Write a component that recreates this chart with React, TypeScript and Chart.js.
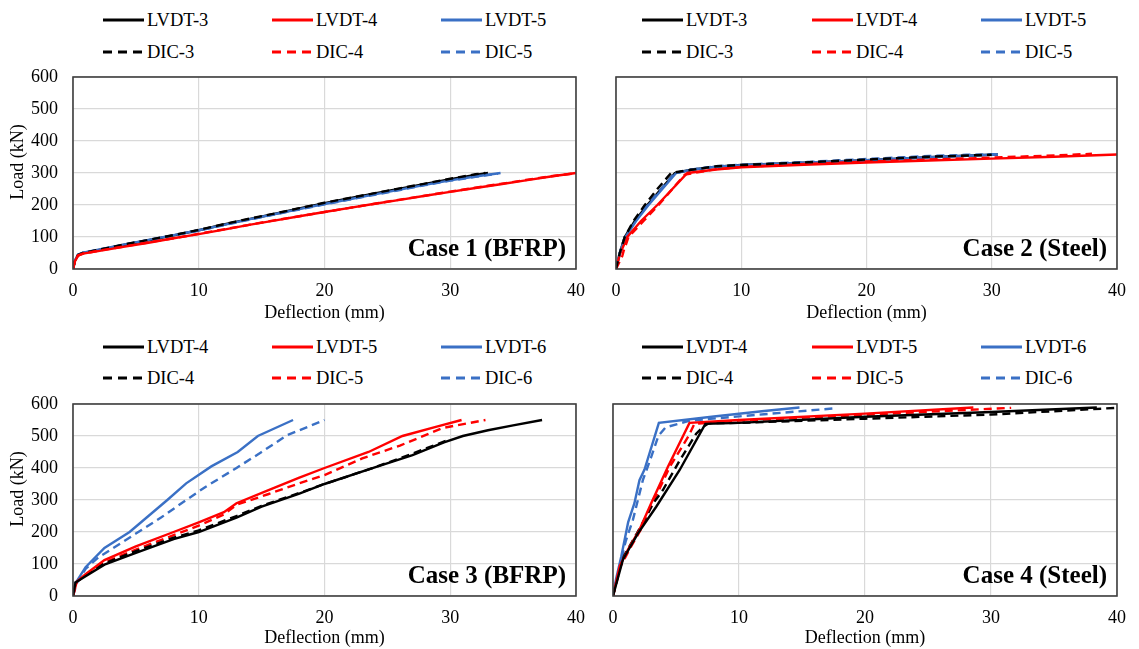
import React, { useEffect, useRef } from "react";
import { Chart, registerables } from "chart.js";

Chart.register(...registerables);

const FONT = "'Liberation Serif', 'Times New Roman', serif";
const BLACK = "#000000";
const RED = "#FF0000";
const BLUE = "#3A70C5";

type Pt = [number, number];

// ---------- Case 1 (BFRP) ----------
const C1_LVDT3: Pt[] = [[0,0],[0.15,25],[0.4,44],[0.8,50],[2,59],[4,75],[6,90],[8,105],[10,121],[12,139],[14,156],[16,172],[18,189],[20,206],[22,221],[24,236],[26,251],[28,266],[30,281],[32,294],[33,300]];
const C1_LVDT4: Pt[] = [[0,0],[0.15,24],[0.4,42],[0.8,48],[2,56],[4,69],[6,82],[8,96],[10,109],[12,123],[14,138],[16,151],[18,165],[20,178],[22,191],[24,204],[26,216],[28,229],[30,241],[32,253],[34,265],[36,277],[38,289],[40,300]];
const C1_LVDT5: Pt[] = [[0,0],[0.15,26],[0.4,45],[0.8,51],[2,60],[4,76],[6,91],[8,106],[10,121],[12,138],[14,155],[16,171],[18,187],[20,203],[22,218],[24,233],[26,248],[28,263],[30,277],[32,289],[34,300]];
const C1_DIC3: Pt[] = [[0,0],[0.15,25],[0.4,44],[0.8,50],[2,60],[4,76],[6,91],[8,106],[10,122],[12,140],[14,157],[16,173],[18,190],[20,207],[22,222],[24,237],[26,252],[28,267],[30,282],[32,296],[32.8,300]];
const C1_DIC4: Pt[] = [[0,0],[0.15,24],[0.4,42],[0.8,48],[2,57],[4,70],[6,83],[8,96],[10,110],[12,124],[14,138],[16,152],[18,165],[20,178],[22,191],[24,204],[26,217],[28,229],[30,242],[32,254],[34,266],[36,278],[38,290],[40,299]];
const C1_DIC5: Pt[] = [[0,0],[0.15,26],[0.4,45],[0.8,51],[2,59],[4,75],[6,90],[8,105],[10,120],[12,137],[14,154],[16,170],[18,186],[20,202],[22,217],[24,232],[26,247],[28,262],[30,276],[32,288],[33.8,298]];

// ---------- Case 2 (Steel) ----------
const C2_LVDT3: Pt[] = [[0,0],[0.3,50],[0.7,100],[1.5,150],[2.5,200],[3.6,250],[4.7,300],[6,310],[8,320],[10,325],[15,332],[20,340],[25,349],[30.5,358]];
const C2_LVDT4: Pt[] = [[0,0],[0.3,45],[0.9,100],[2,150],[3.3,200],[4.5,250],[5.7,300],[8,311],[10,318],[15,326],[20,333],[25,339],[30,345],[35,351],[40,358]];
const C2_LVDT5: Pt[] = [[0,0],[0.3,50],[0.75,100],[1.6,150],[2.6,200],[3.7,250],[4.8,300],[6,310],[8,320],[10,324],[15,332],[20,340],[25,349],[30.5,358]];
const C2_DIC3: Pt[] = [[0,0],[0.3,50],[0.7,100],[1.4,150],[2.3,200],[3.3,250],[4.4,300],[6,310],[8,321],[10,325],[15,333],[20,342],[25,351],[30,357]];
const C2_DIC4: Pt[] = [[0,0],[0.5,40],[0.6,55],[1,100],[2.2,150],[3.4,200],[4.5,250],[5.5,295],[8,312],[10,319],[15,328],[20,336],[25,342],[30,348],[35,355],[38,360]];
const C2_DIC5: Pt[] = [[0,0],[0.3,50],[0.7,100],[1.5,150],[2.5,200],[3.6,250],[4.7,300],[6,311],[8,321],[10,326],[15,334],[20,344],[25,353],[28,357],[30.5,359]];

// ---------- Case 3 (BFRP) ----------
const C3_LVDT4: Pt[] = [[0,0],[0.2,42],[1,62],[2.5,98],[5,135],[8,178],[10,200],[13,245],[15,279],[18,320],[20,350],[24,402],[27,440],[29.5,480],[31,500],[33,518],[35,533],[37.3,550]];
const C3_LVDT5: Pt[] = [[0,0],[0.3,45],[1,68],[2.5,112],[5,155],[8,200],[10,230],[12,262],[13,290],[15.5,330],[18,370],[20,400],[23.5,450],[26.2,500],[29,530],[30.9,550]];
const C3_LVDT6: Pt[] = [[0,0],[0.2,40],[1,90],[2.5,150],[4.5,200],[6,250],[7.5,300],[9,352],[11,405],[13.1,450],[14.7,500],[17.5,550]];
const C3_DIC4: Pt[] = [[0,0],[0.2,42],[1,65],[2.5,102],[5,140],[8,182],[10,205],[13,250],[15,282],[18,322],[20,350],[24,402],[27,445],[30,490]];
const C3_DIC5: Pt[] = [[0,0],[0.3,45],[1,65],[2.5,105],[5,145],[8,190],[10,220],[12,255],[13,285],[15.5,318],[18,352],[20,378],[23,430],[26,470],[29.4,525],[32.8,550]];
const C3_DIC6: Pt[] = [[0,0],[0.3,40],[1,85],[2,120],[3,145],[5,195],[7,245],[9,300],[10.5,340],[13,400],[15,450],[17,502],[20,550]];

// ---------- Case 4 (Steel) ----------
const C4_LVDT4: Pt[] = [[0,0],[0.79,114],[1.98,196],[3.43,279],[5.28,393],[7.33,538],[10,541],[20,560],[30,575],[38.4,589]];
const C4_LVDT5: Pt[] = [[0,0],[0.53,93],[1.19,145],[2.1,207],[3.03,290],[4.35,403],[6.07,541],[10,550],[20,570],[28.6,589]];
const C4_LVDT6: Pt[] = [[0,0],[0.25,55],[0.66,124],[1.2,230],[1.7,290],[2.1,362],[2.5,395],[3.64,541],[8,561],[12,578],[14.8,589]];
const C4_DIC4: Pt[] = [[0,0],[0.7,114],[1.9,196],[3.2,290],[3.96,331],[5.3,424],[6.6,507],[7.1,527],[7.6,540],[10,541],[20,554],[30,567],[40,588]];
const C4_DIC5: Pt[] = [[0,0],[0.6,93],[1.3,145],[2.2,207],[3.15,290],[4.5,403],[6.0,500],[6.46,538],[10,548],[20,566],[31.6,588]];
const C4_DIC6: Pt[] = [[0,0],[0.53,93],[1.0,170],[1.58,238],[2.37,362],[3.03,434],[3.6,500],[4.17,527],[6.1,548],[12,568],[17.8,587]];

const X_TICKS = [0, 10, 20, 30, 40];
const Y_TICKS = [0, 100, 200, 300, 400, 500, 600];

type Series = { label: string; pts: Pt[]; color: string; dash: boolean };

const boxPlugin = {
  id: "boxCase",
  afterDatasetsDraw(chart: any, _args: any, opts: any) {
    const { ctx, chartArea: a } = chart;
    ctx.save();
    ctx.strokeStyle = "#3F3F3F";
    ctx.lineWidth = 1.6;
    ctx.strokeRect(a.left, a.top, a.right - a.left, a.bottom - a.top);
    if (opts && opts.text) {
      ctx.font = `bold 25px ${FONT}`;
      ctx.fillStyle = "#000";
      ctx.textAlign = "right";
      ctx.textBaseline = "middle";
      ctx.fillText(opts.text, a.right - 10, a.bottom - 19);
    }
    if (opts && opts.yTitle) {
      ctx.font = `18px ${FONT}`;
      ctx.fillStyle = "#000";
      ctx.textAlign = "center";
      ctx.textBaseline = "middle";
      ctx.translate(18.5, (a.top + a.bottom) / 2 - 11);
      ctx.rotate(-Math.PI / 2);
      ctx.fillText(opts.yTitle, 0, 0);
    }
    ctx.restore();
  },
};

function Panel(props: {
  left: number; top: number; width: number; height: number;
  yw: number; xh: number; padTop: number; padRight: number; titlePadBottom: number;
  showY: boolean; caseText: string; series: Series[];
}) {
  const ref = useRef<HTMLCanvasElement | null>(null);
  useEffect(() => {
    if (!ref.current) return;
    const chart = new Chart(ref.current, {
      type: "line",
      data: {
        datasets: props.series.map((s) => ({
          label: s.label,
          data: s.pts.map(([x, y]) => ({ x, y })),
          borderColor: s.color,
          backgroundColor: s.color,
          borderWidth: 2.4,
          borderDash: s.dash ? [8, 5] : [],
          pointRadius: 0,
          tension: 0,
          fill: false,
        })),
      },
      options: {
        animation: false,
        responsive: false,
        maintainAspectRatio: false,
        layout: { padding: { left: 0, top: props.padTop, right: props.padRight, bottom: 0 } },
        plugins: {
          legend: { display: false },
          tooltip: { enabled: false },
          boxCase: { text: props.caseText, yTitle: props.showY ? "Load (kN)" : "" },
        } as any,
        scales: {
          x: {
            type: "linear",
            min: 0,
            max: 40,
            afterBuildTicks: (scale: any) => { scale.ticks = X_TICKS.map((v) => ({ value: v })); },
            afterFit: (scale: any) => {
              scale.height = props.xh;
              scale.paddingLeft = 0; scale.paddingRight = 0; scale.paddingTop = 0; scale.paddingBottom = 0;
            },
            grid: { color: "#D9D9D9", lineWidth: 1.2, drawTicks: false },
            border: { display: false },
            ticks: { color: "#000", font: { family: FONT, size: 18 }, padding: 11, maxRotation: 0 },
            title: {
              display: true,
              text: "Deflection (mm)",
              color: "#000",
              font: { family: FONT, size: 18 },
              padding: { top: 0, bottom: props.titlePadBottom },
            },
          },
          y: {
            type: "linear",
            min: 0,
            max: 600,
            afterBuildTicks: (scale: any) => { scale.ticks = Y_TICKS.map((v) => ({ value: v })); },
            afterFit: (scale: any) => {
              scale.width = props.yw;
              scale.paddingLeft = 0; scale.paddingRight = 0; scale.paddingTop = 0; scale.paddingBottom = 0;
            },
            grid: { color: "#D9D9D9", lineWidth: 1.2, drawTicks: false },
            border: { display: false },
            ticks: { display: props.showY, color: "#000", font: { family: FONT, size: 18 }, padding: 15 },
            title: { display: false },
          },
        },
      } as any,
      plugins: [boxPlugin as any],
    });
    return () => chart.destroy();
  }, []);
  return (
    <canvas
      ref={ref}
      width={props.width}
      height={props.height}
      style={{ position: "absolute", left: props.left, top: props.top, width: props.width, height: props.height }}
    />
  );
}

function Legend(props: { xs: number[]; ys: number[]; items: { label: string; color: string; dash: boolean }[] }) {
  return (
    <>
      {props.items.map((it, i) => {
        const col = i % 3;
        const row = Math.floor(i / 3);
        const x = props.xs[col];
        const y = props.ys[row];
        return (
          <div key={it.label} style={{ position: "absolute", left: x, top: y - 12, height: 24, display: "flex", alignItems: "center" }}>
            <svg width={41} height={8} style={{ display: "block" }}>
              <line x1={0} y1={4} x2={41} y2={4} stroke={it.color} strokeWidth={3} strokeDasharray={it.dash ? "9 6" : undefined} />
            </svg>
            <span style={{ fontFamily: FONT, fontSize: 18.5, color: "#000", marginLeft: 3, lineHeight: "24px", whiteSpace: "nowrap" }}>{it.label}</span>
          </div>
        );
      })}
    </>
  );
}

const S = (label: string, pts: Pt[], color: string, dash: boolean): Series => ({ label, pts, color, dash });

export default function App() {
  const case1 = [
    S("DIC-4", C1_DIC4, RED, true), S("LVDT-4", C1_LVDT4, RED, false),
    S("DIC-3", C1_DIC3, BLACK, true), S("DIC-5", C1_DIC5, BLUE, true),
    S("LVDT-5", C1_LVDT5, BLUE, false), S("LVDT-3", C1_LVDT3, BLACK, false),
  ];
  const case2 = [
    S("DIC-3", C2_DIC3, BLACK, true), S("DIC-4", C2_DIC4, RED, true), S("DIC-5", C2_DIC5, BLUE, true),
    S("LVDT-4", C2_LVDT4, RED, false), S("LVDT-5", C2_LVDT5, BLUE, false), S("LVDT-3", C2_LVDT3, BLACK, false),
  ];
  const case3 = [
    S("LVDT-4", C3_LVDT4, BLACK, false), S("LVDT-5", C3_LVDT5, RED, false), S("LVDT-6", C3_LVDT6, BLUE, false),
    S("DIC-4", C3_DIC4, BLACK, true), S("DIC-5", C3_DIC5, RED, true), S("DIC-6", C3_DIC6, BLUE, true),
  ];
  const case4 = [
    S("LVDT-4", C4_LVDT4, BLACK, false), S("LVDT-5", C4_LVDT5, RED, false), S("LVDT-6", C4_LVDT6, BLUE, false),
    S("DIC-4", C4_DIC4, BLACK, true), S("DIC-5", C4_DIC5, RED, true), S("DIC-6", C4_DIC6, BLUE, true),
  ];
  const leg1 = [
    { label: "LVDT-3", color: BLACK, dash: false }, { label: "LVDT-4", color: RED, dash: false }, { label: "LVDT-5", color: BLUE, dash: false },
    { label: "DIC-3", color: BLACK, dash: true }, { label: "DIC-4", color: RED, dash: true }, { label: "DIC-5", color: BLUE, dash: true },
  ];
  const leg2 = [
    { label: "LVDT-4", color: BLACK, dash: false }, { label: "LVDT-5", color: RED, dash: false }, { label: "LVDT-6", color: BLUE, dash: false },
    { label: "DIC-4", color: BLACK, dash: true }, { label: "DIC-5", color: RED, dash: true }, { label: "DIC-6", color: BLUE, dash: true },
  ];
  return (
    <div style={{ position: "absolute", left: 0, top: 0, width: 1139, height: 649, overflow: "hidden", background: "#fff" }}>
      <Legend xs={[103, 272, 441]} ys={[20, 52]} items={leg1} />
      <Legend xs={[642, 812, 981]} ys={[20, 52]} items={leg1} />
      <Legend xs={[103, 272, 441]} ys={[347, 378]} items={leg2} />
      <Legend xs={[642, 812, 981]} ys={[347, 378]} items={leg2} />
      <Panel left={0} top={63} width={590} height={264} yw={73} xh={58} padTop={14} padRight={14} titlePadBottom={3} showY={true} caseText="Case 1 (BFRP)" series={case1} />
      <Panel left={606} top={63} width={525} height={264} yw={10} xh={58} padTop={14} padRight={14} titlePadBottom={3} showY={false} caseText="Case 2 (Steel)" series={case2} />
      <Panel left={0} top={390} width={590} height={259} yw={73} xh={53} padTop={14} padRight={14} titlePadBottom={0} showY={true} caseText="Case 3 (BFRP)" series={case3} />
      <Panel left={603} top={390} width={528} height={259} yw={10} xh={53} padTop={14} padRight={14} titlePadBottom={0} showY={false} caseText="Case 4 (Steel)" series={case4} />
    </div>
  );
}
